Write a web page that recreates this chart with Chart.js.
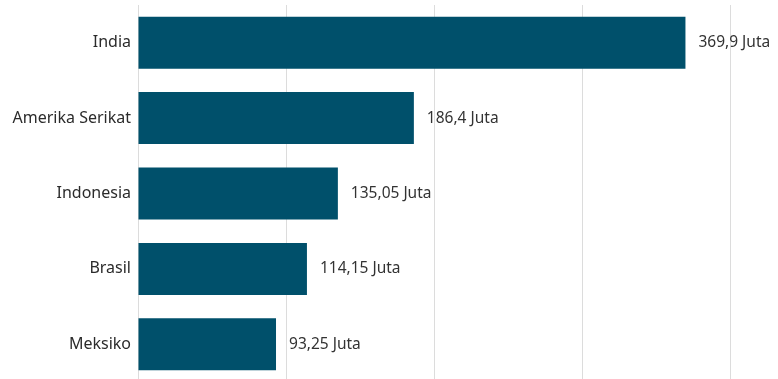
<!DOCTYPE html>
<html>
<head>
<meta charset="utf-8">
<script src="https://cdn.jsdelivr.net/npm/chart.js@4"></script>
<style>
  html, body { margin: 0; padding: 0; background: #fff; overflow: hidden; }
  #wrap { width: 778px; height: 384px; }
</style>
</head>
<body>
<div id="wrap"><canvas id="chart"></canvas></div>
<script>
// Data
const countries = ['India', 'Amerika Serikat', 'Indonesia', 'Brasil', 'Meksiko'];
const users = [369.9, 186.4, 135.05, 114.15, 93.25];
const valueLabels = ['369,9 Juta', '186,4 Juta', '135,05 Juta', '114,15 Juta', '93,25 Juta'];

const fontFamily = '"Segoe UI", "Noto Sans", "Open Sans", sans-serif';

// Draw value labels at the end of each bar
const barLabels = {
    id: 'barLabels',
    afterDatasetsDraw(chart) {
        const ctx = chart.ctx;
        const meta = chart.getDatasetMeta(0);
        ctx.save();
        ctx.font = '15.5px ' + fontFamily;
        ctx.fillStyle = '#333333';
        ctx.textAlign = 'left';
        ctx.textBaseline = 'middle';
        meta.data.forEach((bar, i) => {
            ctx.fillText(valueLabels[i], bar.x + 13, bar.y);
        });
        ctx.restore();
    }
};

new Chart(document.getElementById('chart'), {
    type: 'bar',
    data: {
        labels: countries,
        datasets: [{
            data: users,
            backgroundColor: '#00506b',
            categoryPercentage: 0.69,
            barPercentage: 1
        }]
    },
    options: {
        indexAxis: 'y',
        responsive: true,
        maintainAspectRatio: false,
        animation: false,
        layout: { padding: { top: 5, right: 48, bottom: 2, left: 0 } },
        plugins: {
            legend: { display: false },
            tooltip: { enabled: false }
        },
        scales: {
            x: {
                min: 0,
                max: 400,
                ticks: { display: false, stepSize: 100 },
                grid: { color: '#dcdcdc', lineWidth: 1, drawTicks: false },
                border: { display: false },
                afterFit(scale) { scale.height = 0; scale.paddingLeft = 0; scale.paddingRight = 0; }
            },
            y: {
                ticks: {
                    color: '#2b2b2b',
                    padding: 7,
                    font: { family: fontFamily, size: 16 }
                },
                grid: { display: false, drawTicks: false },
                border: { display: false },
                afterFit(scale) { scale.width = 138; scale.paddingTop = 0; scale.paddingBottom = 0; }
            }
        }
    },
    plugins: [barLabels]
});
</script>
</body>
</html>
